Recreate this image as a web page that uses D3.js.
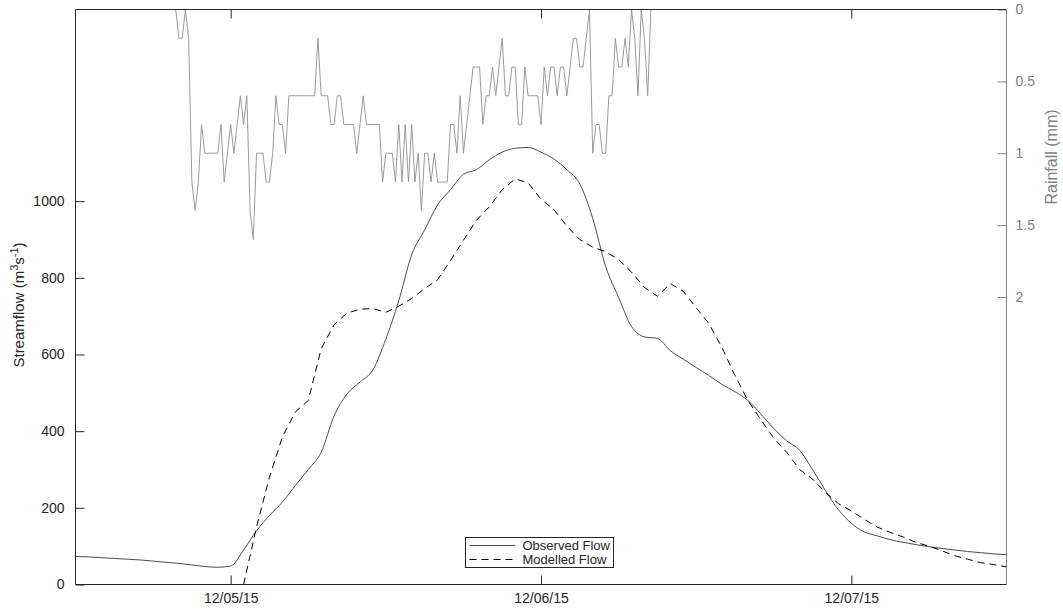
<!DOCTYPE html>
<html>
<head>
<meta charset="utf-8">
<script src="https://cdn.jsdelivr.net/npm/d3@7"></script>
<style>
  body { margin: 0; background: #fff; }
  svg { font-family: 'Liberation Sans', Arial, sans-serif; }
</style>
</head>
<body>
<svg width="1063" height="614"></svg>
<script>
const flowStart = '2015-12-04 12:00' // hourly flows start here
const observedFlow = [
  73, 72, 70, 68, 66, 64, 61, 58, 55, 51, 47, 45,
  48, 90, 140, 180, 215, 258, 300, 345, 440, 497, 528, 560,
  640, 740, 860, 925, 990, 1030, 1070, 1082, 1108, 1128, 1138, 1140,
  1128, 1110, 1082, 1045, 955, 830, 749, 673, 646, 642, 610, 588,
  566, 545, 522, 503, 480, 445, 407, 375, 350, 300, 245, 195,
  160, 137, 127, 117, 110, 104, 99, 94, 90, 86, 83, 80, 78
]
const modelledFlow = [
  null, null, null, null, null, null, null, null, null, null, null, null,
  null, 0, 150, 280, 385, 450, 480, 615, 678, 708, 718, 720,
  710, 726, 746, 772, 795, 845, 898, 950, 985, 1030, 1058, 1048,
  1005, 978, 935, 900, 880, 868, 848, 815, 775, 752, 785, 765,
  722, 680, 618, 545, 480, 430, 382, 345, 300, 275, 240, 211,
  192, 170, 150, 136, 124, 110, 100, 88, 75, 66, 57, 52, 46
]
const rainStart = '2015-12-04 19:45' // 15 minute rainfall totals
const rainfall = [
  0, 0.2, 0.2, 0, 0.2, 1.2, 1.4, 1.2, 0.8, 1.0,
  1.0, 1.0, 1.0, 1.0, 0.8, 1.2, 1.0, 0.8, 1.0, 0.8,
  0.6, 0.8, 0.6, 1.4, 1.6, 1.0, 1.0, 1.0, 1.2, 1.2,
  1.0, 0.6, 0.8, 0.8, 1.0, 0.6, 0.6, 0.6, 0.6, 0.6,
  0.6, 0.6, 0.6, 0.6, 0.2, 0.6, 0.6, 0.6, 0.8, 0.8,
  0.6, 0.6, 0.8, 0.8, 0.8, 0.8, 1.0, 0.8, 0.6, 0.8,
  0.8, 0.8, 0.8, 0.8, 1.2, 1.0, 1.0, 1.0, 1.2, 0.8,
  1.2, 0.8, 1.2, 0.8, 1.2, 1.0, 1.4, 1.0, 1.0, 1.2,
  1.0, 1.2, 1.2, 1.2, 1.2, 0.8, 0.8, 1.0, 0.6, 1.0,
  0.8, 0.6, 0.4, 0.4, 0.4, 0.8, 0.6, 0.6, 0.4, 0.6,
  0.4, 0.2, 0.6, 0.6, 0.4, 0.4, 0.8, 0.8, 0.4, 0.6,
  0.6, 0.6, 0.6, 0.8, 0.4, 0.6, 0.4, 0.4, 0.6, 0.4,
  0.4, 0.6, 0.4, 0.2, 0.2, 0.4, 0.4, 0.2, 0, 1.0,
  0.8, 0.8, 1.0, 1.0, 0.6, 0.6, 0.2, 0.4, 0.4, 0.2,
  0.4, 0, 0.2, 0.6, 0, 0.2, 0.6, 0
]
const dateRange = ['2015-12-04 12:00', '2015-12-07 12:00']
const dateTicks = ['2015-12-05 00:00', '2015-12-06 00:00', '2015-12-07 00:00']
const flowTicks = [0, 200, 400, 600, 800, 1000]
const rainTicks = [0, 0.5, 1, 1.5, 2]
const legendLabels = ['Observed Flow', 'Modelled Flow']

const parseTime = d3.timeParse('%Y-%m-%d %H:%M')
const ink = '#262626'
const grey = '#808080'

drawChart()

function drawChart () {
  const dim = { left: 75.5, right: 1006.5, top: 9.5, bottom: 584.5 }
  const scales = setScales(dim)
  const svg = d3.select('svg')

  svg.append('clipPath')
    .attr('id', 'plotClip')
    .append('rect')
      .attr('x', dim.left).attr('y', dim.top)
      .attr('width', dim.right - dim.left).attr('height', dim.bottom - dim.top)

  drawRain(svg, scales)
  drawFlows(svg, scales)
  drawAxes(svg, dim, scales)
  drawLabels(svg)
  drawLegend(svg)
}

function setScales (dim) {
  return {
    x: d3.scaleTime().domain(dateRange.map(parseTime)).range([dim.left, dim.right]),
    yFlow: d3.scaleLinear().domain([0, 1500]).range([dim.bottom, dim.top]),
    yRain: d3.scaleLinear().domain([0, 4]).range([dim.top, dim.bottom])
  }
}

function drawRain (svg, { x, yRain }) {
  const t0 = parseTime(rainStart)
  const rows = rainfall.map((v, i) => ({ t: d3.timeMinute.offset(t0, 15 * i), v }))
  svg.append('path')
    .datum(rows)
    .attr('clip-path', 'url(#plotClip)')
    .attr('fill', 'none')
    .attr('stroke', '#9a9a9a')
    .attr('stroke-width', 1)
    .attr('d', d3.line().x((d) => x(d.t)).y((d) => yRain(d.v)))
}

function drawFlows (svg, { x, yFlow }) {
  const t0 = parseTime(flowStart)
  const line = d3.line()
    .defined((d) => d.v != null)
    .x((d) => x(d.t))
    .y((d) => yFlow(d.v))
  const rows = (vals) => vals.map((v, i) => ({ t: d3.timeHour.offset(t0, i), v }))

  svg.append('path') // observed
    .datum(rows(observedFlow))
    .attr('clip-path', 'url(#plotClip)')
    .attr('fill', 'none')
    .attr('stroke', '#4d4d4d')
    .attr('stroke-width', 1)
    .attr('d', line.curve(d3.curveMonotoneX))

  svg.append('path') // modelled
    .datum(rows(modelledFlow))
    .attr('clip-path', 'url(#plotClip)')
    .attr('fill', 'none')
    .attr('stroke', '#000')
    .attr('stroke-width', 1)
    .attr('stroke-dasharray', '7,5')
    .attr('d', line.curve(d3.curveLinear))
}

function drawAxes (svg, dim, { x, yFlow, yRain }) {
  const ticks = dateTicks.map(parseTime)

  const bottom = svg.append('g')
    .attr('transform', `translate(0,${dim.bottom})`)
    .call(d3.axisBottom(x).tickValues(ticks).tickFormat(d3.timeFormat('%m/%d/%y'))
      .tickSizeInner(-9).tickSizeOuter(0).tickPadding(9))
  const top = svg.append('g')
    .attr('transform', `translate(0,${dim.top})`)
    .call(d3.axisTop(x).tickValues(ticks).tickFormat('')
      .tickSizeInner(-9).tickSizeOuter(0))
  const left = svg.append('g')
    .attr('transform', `translate(${dim.left},0)`)
    .call(d3.axisLeft(yFlow).tickValues(flowTicks).tickFormat(d3.format('d'))
      .tickSizeInner(-9).tickSizeOuter(0).tickPadding(11))
  const right = svg.append('g')
    .attr('transform', `translate(${dim.right},0)`)
    .call(d3.axisRight(yRain).tickValues(rainTicks).tickFormat((d) => d)
      .tickSizeInner(-9).tickSizeOuter(0).tickPadding(9))

  ;[bottom, top, left].forEach((g) => {
    g.select('.domain').remove()
    g.selectAll('line').attr('stroke', ink)
    g.selectAll('text').attr('fill', ink).attr('font-size', 14).attr('font-family', null)
  })
  right.select('.domain').remove()
  right.selectAll('line').attr('stroke', grey)
  right.selectAll('text').attr('fill', grey).attr('font-size', 14).attr('font-family', null)

  // box edges
  svg.append('line').attr('x1', dim.left).attr('x2', dim.right).attr('y1', dim.bottom).attr('y2', dim.bottom).attr('stroke', ink)
  svg.append('line').attr('x1', dim.left).attr('x2', dim.right).attr('y1', dim.top).attr('y2', dim.top).attr('stroke', ink)
  svg.append('line').attr('x1', dim.left).attr('x2', dim.left).attr('y1', dim.top).attr('y2', dim.bottom).attr('stroke', ink)
  svg.append('line').attr('x1', dim.right).attr('x2', dim.right).attr('y1', dim.top).attr('y2', dim.bottom).attr('stroke', grey)
}

function drawLabels (svg) {
  const flowLabel = svg.append('text')
    .attr('transform', 'translate(24,305) rotate(-90)')
    .attr('text-anchor', 'middle')
    .attr('font-size', 15)
    .attr('fill', ink)
  flowLabel.append('tspan').text('Streamflow (m')
  flowLabel.append('tspan').attr('dy', -6).attr('font-size', 11).text('3')
  flowLabel.append('tspan').attr('dy', 6).text('s')
  flowLabel.append('tspan').attr('dy', -6).attr('font-size', 11).text('-1')
  flowLabel.append('tspan').attr('dy', 6).text(')')

  svg.append('text')
    .attr('transform', 'translate(1057,157) rotate(-90)')
    .attr('text-anchor', 'middle')
    .attr('font-size', 16)
    .attr('fill', grey)
    .text('Rainfall (mm)')
}

function drawLegend (svg) {
  const g = svg.append('g').attr('transform', 'translate(465.5,537.5)')
  g.append('rect')
    .attr('width', 148).attr('height', 30)
    .attr('fill', '#fff').attr('stroke', ink)

  legendLabels.forEach((label, i) => {
    const y = 8 + i * 14
    g.append('line')
      .attr('x1', 4).attr('x2', 50).attr('y1', y).attr('y2', y)
      .attr('stroke', i === 0 ? '#4d4d4d' : '#000')
      .attr('stroke-dasharray', i === 0 ? null : '7,5')
    g.append('text')
      .attr('x', 57).attr('y', y + 4.5)
      .attr('font-size', 13)
      .attr('fill', ink)
      .text(label)
  })
}
</script>
</body>
</html>
